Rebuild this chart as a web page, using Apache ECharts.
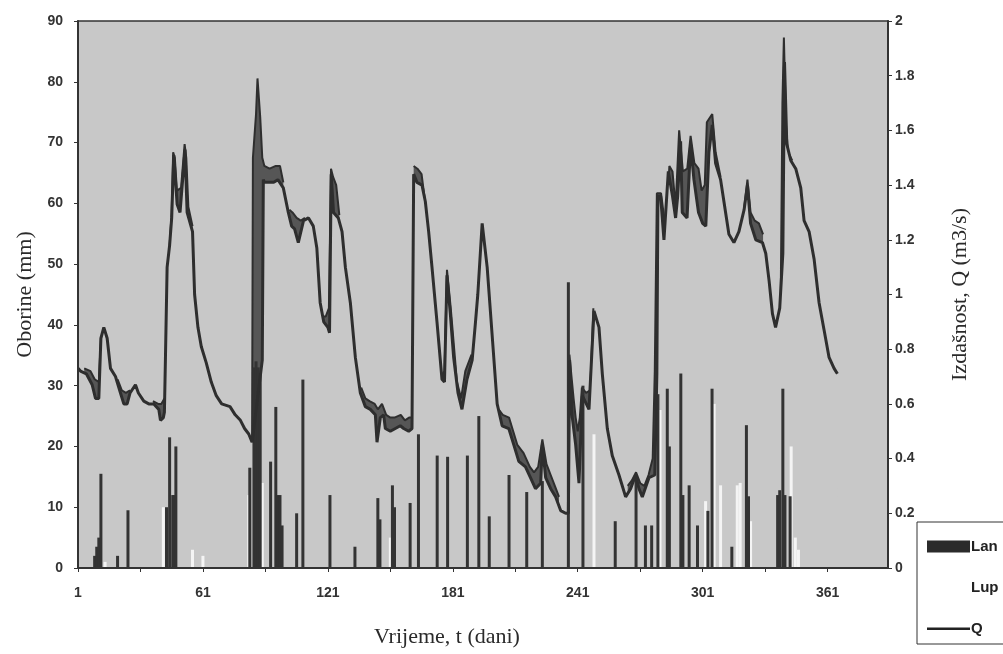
<!DOCTYPE html>
<html>
<head>
<meta charset="utf-8">
<title>Oborine i izdašnost</title>
<script src="https://cdn.jsdelivr.net/npm/echarts@6/dist/echarts.min.js"></script>
<style>
  html, body { margin: 0; padding: 0; background: #fff; }
  #chart { width: 1003px; height: 654px; }
</style>
</head>
<body>
<div id="chart"></div>
<script>
// x axis (dani)
const dayTicks = [1, 31, 61, 91, 121, 151, 181, 211, 241, 271, 301, 331, 361];
const dayLabels = [1, 61, 121, 181, 241, 301, 361];

// oborine Lan [dan, mm]
const lanRain = [
  [9, 2], [10, 3.5], [11, 5], [12, 15.5], [20, 2], [25, 9.5], [43.5, 10],
  [45, 21.5], [46.5, 12], [47, 12], [48, 20],
  [83.5, 16.5], [85.5, 33], [86.5, 34], [87.5, 33], [88.5, 32], [93.5, 17.5],
  [96, 26.5], [97, 12], [98, 12], [99, 7], [106, 9], [109, 31], [122, 12],
  [134, 3.5], [145, 11.5], [146, 8], [152, 13.6], [153, 10], [160.5, 10.7],
  [164.5, 22], [173.5, 18.5], [178.5, 18.3], [188, 18.5], [193.5, 25],
  [198.5, 8.5], [208, 15.3], [216.5, 12.5], [224, 14.3], [236.5, 47],
  [243.5, 30], [259, 7.7], [269, 15], [273.5, 7], [276.5, 7], [279.5, 28.6],
  [284, 29.5], [285, 20], [290.5, 32], [291.5, 12], [294.5, 13.6], [298.5, 7],
  [303.5, 9.4], [305.5, 29.5], [315, 3.5], [322, 23.5], [323, 11.8],
  [337, 12], [338, 12.8], [339.5, 29.5], [340.5, 12], [343, 11.8]
];

// oborine Lup [dan, mm]
const lupRain = [
  [10.5, 1.5], [14, 1], [42, 10], [56, 3], [61, 2], [83, 12], [87.5, 15],
  [89.5, 14], [151, 5], [248.8, 22], [280.5, 26], [302.4, 11], [306.5, 27],
  [309.6, 13.6], [317.6, 13.6], [319, 14], [324, 7.7], [343.5, 20],
  [345.5, 5], [347, 3]
];

// izdasnost Q [dan, m3/s]
const qLine = [
  [1, 0.73], [2.2, 0.72], [5, 0.71], [7.8, 0.67], [9.4, 0.62], [11, 0.62],
  [12, 0.84], [13.4, 0.88], [15, 0.84], [16.6, 0.73], [19, 0.70], [21.4, 0.64],
  [23, 0.60], [24.6, 0.60], [26, 0.64], [28.6, 0.67], [30, 0.64], [32.6, 0.61],
  [35, 0.60], [37.4, 0.60], [39.8, 0.58], [40.6, 0.54], [42, 0.55], [42.5, 0.57],
  [43, 0.77], [43.8, 1.10], [45, 1.18], [46, 1.28], [47, 1.51], [48.6, 1.33],
  [50, 1.30], [52.4, 1.53], [53.4, 1.30], [56, 1.23], [57, 1.00], [58.6, 0.88],
  [60.2, 0.81], [62.6, 0.75], [65, 0.68], [67.4, 0.63], [70, 0.60], [74, 0.59],
  [76.5, 0.56], [79, 0.54], [81, 0.51], [83, 0.49], [84.6, 0.46], [89.5, 0.76],
  [90, 1.42], [90.5, 1.41], [95, 1.41], [97, 1.42], [99.6, 1.39], [102, 1.30],
  [103.6, 1.25], [105, 1.24], [106.8, 1.19], [109.3, 1.27], [111.7, 1.28], [114, 1.25],
  [115.7, 1.17], [117.3, 0.97], [119, 0.90], [121, 0.88], [121.8, 0.86],
  [122.6, 1.44], [123.7, 1.30], [126, 1.28], [127.8, 1.23], [129.4, 1.10],
  [131.8, 0.97], [134.2, 0.77], [136.6, 0.64], [139, 0.59], [141.4, 0.58],
  [143.8, 0.56], [144.6, 0.46], [146.2, 0.55], [147.8, 0.56], [148.6, 0.51],
  [151, 0.50], [153.4, 0.51], [155.8, 0.52], [157.4, 0.51], [159.8, 0.50],
  [161.4, 0.51], [162.2, 1.44], [163.8, 1.41], [166.2, 1.40], [167.8, 1.34],
  [169.4, 1.23], [171, 1.10], [173.4, 0.90], [175.8, 0.69], [177, 0.68],
  [178.2, 1.07], [179.8, 0.93], [181.4, 0.77], [183.5, 0.64], [185.4, 0.58],
  [187.8, 0.69], [190.3, 0.76], [191.9, 0.90], [193, 1.00], [195.1, 1.26],
  [197.5, 1.10], [200, 0.84], [202.3, 0.60], [204.7, 0.52], [207.9, 0.51],
  [210.3, 0.45], [212.7, 0.39], [215.9, 0.37], [218.3, 0.33], [220.7, 0.29],
  [223.2, 0.31], [224, 0.45], [225.6, 0.33], [228, 0.29], [230.4, 0.26],
  [232.8, 0.21], [235.2, 0.20], [236.5, 0.20], [237.1, 0.76], [238.4, 0.55],
  [240, 0.45], [241.6, 0.31], [243.2, 0.63], [246.4, 0.58], [248.8, 0.94],
  [251.2, 0.88], [252.8, 0.71], [255.2, 0.51], [257.6, 0.41], [260.8, 0.34],
  [264, 0.26], [266.4, 0.29], [268.8, 0.34], [270.4, 0.29], [272, 0.26],
  [275.2, 0.33], [278, 0.34], [279, 0.71], [279.5, 1.36], [280.8, 1.36],
  [282.4, 1.20], [284.5, 1.45], [286.5, 1.36], [288, 1.28], [289, 1.36],
  [290.4, 1.56], [291.2, 1.30], [293.5, 1.28], [295.2, 1.55], [296.8, 1.42],
  [299, 1.30], [301, 1.26], [302.5, 1.25], [304, 1.52], [305.6, 1.62],
  [307.2, 1.48], [309.6, 1.42], [311.2, 1.34], [313.6, 1.22], [316, 1.19],
  [318.4, 1.23], [320.9, 1.31], [322.5, 1.40], [324, 1.26], [326.5, 1.20],
  [329.7, 1.19], [331.3, 1.15], [332.9, 1.05], [334.5, 0.93], [336, 0.88],
  [338, 0.95], [339.5, 1.15], [340.3, 1.85], [341.4, 1.55], [343.3, 1.49],
  [345.7, 1.46], [348.1, 1.39], [349.7, 1.27], [352.1, 1.23], [354.5, 1.13],
  [356.9, 0.97], [359.3, 0.87], [361.7, 0.77], [364.1, 0.73], [365.7, 0.71]
];

// gornja krivulja pojasa oko Q (null = prekid)
const qUpper = [
  [4, 0.73], [7, 0.72], [9, 0.69], [11, 0.68], [12, 0.84], [12, null],
  [20, 0.69], [22, 0.65], [24, 0.64], [26, 0.65], [26, null],
  [37, 0.61], [39.5, 0.60], [41, 0.60], [42.5, 0.62], [42.5, null],
  [45, 1.18], [46, 1.30], [46.7, 1.52], [47.5, 1.50], [48.5, 1.38], [50.5, 1.39],
  [52.2, 1.55], [53, 1.50], [54, 1.32], [56, 1.25], [56, null],
  [84.6, 0.46], [85, 1.50], [86.5, 1.66], [87.2, 1.79], [88.5, 1.65], [89.5, 1.50],
  [90.5, 1.47], [93, 1.46], [96, 1.47], [98, 1.47], [99.6, 1.41], [99.6, null],
  [102.5, 1.31], [104, 1.30], [106, 1.28], [108, 1.27], [110, 1.28], [110, null],
  [118.5, 0.92], [120, 0.92], [121.5, 0.95], [122.5, 1.46], [123.5, 1.43],
  [125, 1.40], [126.5, 1.29], [126.5, null],
  [137, 0.66], [139, 0.62], [141, 0.61], [143.5, 0.60], [145, 0.58], [147, 0.60],
  [149, 0.56], [151, 0.55], [153, 0.55], [156, 0.56], [158, 0.54], [160, 0.55],
  [161.5, 0.55], [161.5, null],
  [162.2, 1.47], [164, 1.46], [166, 1.44], [167.5, 1.35], [167.5, null],
  [175.5, 0.70], [177, 0.72], [178.2, 1.09], [180, 0.95], [183, 0.68],
  [185, 0.62], [187, 0.72], [190, 0.78], [190, null],
  [203, 0.58], [205, 0.56], [208, 0.55], [210, 0.50], [212, 0.45], [215, 0.42],
  [218, 0.37], [220, 0.35], [222, 0.37], [224, 0.47], [226, 0.38], [228, 0.34],
  [230, 0.30], [232, 0.26], [232, null],
  [236.5, 0.22], [237, 0.78], [238, 0.70], [239, 0.62], [240, 0.55], [241, 0.50],
  [242, 0.55], [243, 0.66], [245, 0.64], [247, 0.65], [248.5, 0.95], [248.5, null],
  [265, 0.30], [267, 0.32], [269, 0.35], [271, 0.31], [273, 0.30], [275, 0.34],
  [277, 0.40], [278, 0.72], [279, 1.37], [281, 1.37], [282.5, 1.28], [283.5, 1.24],
  [285, 1.47], [286.5, 1.45], [288, 1.32], [289.7, 1.60], [291.5, 1.45],
  [293.6, 1.46], [295.2, 1.58], [297, 1.48], [299, 1.46], [300.5, 1.38],
  [302, 1.40], [303, 1.63], [305.6, 1.66], [307.2, 1.52], [309.6, 1.43], [309.6, null],
  [321, 1.32], [322.5, 1.42], [324, 1.30], [326, 1.27], [328, 1.26], [330, 1.22], [330, null],
  [338.5, 1.00], [339.3, 1.70], [340, 1.94], [341, 1.62], [342, 1.52], [344, 1.49]
];

const plotBg = "#c8c8c8";
const ink = "#2e2e2e";
const tickFont = {
  color: "#333",
  fontFamily: "'Liberation Sans Narrow', 'Arial Narrow', 'Liberation Sans', sans-serif",
  fontWeight: "bold",
  fontSize: 14
};
const titleFont = {
  color: "#2a2a2a",
  fontFamily: "'Liberation Serif', 'DejaVu Serif', serif",
  fontSize: 22
};

let myChart = echarts.init(document.getElementById("chart"), null, { renderer: "canvas" });

let option = {
  animation: false,
  backgroundColor: "#fff",
  grid: {
    left: 78,
    right: 115,
    top: 21,
    bottom: 86,
    show: true,
    backgroundColor: plotBg,
    borderColor: "#333",
    borderWidth: 1.5
  },
  legend: {
    left: 917,
    top: 522,
    orient: "vertical",
    selectedMode: false,
    backgroundColor: "#fff",
    borderColor: "#333",
    borderWidth: 1,
    borderRadius: 0,
    padding: [17, 60, 8, 10],
    itemWidth: 43,
    itemHeight: 12,
    itemGap: 26,
    textStyle: Object.assign({}, tickFont, { fontSize: 15, color: "#222", padding: [0, 0, 0, -4] }),
    data: [
      { name: "Lan", icon: "rect", itemStyle: { color: "#2b2b2b" } },
      { name: "Lup", icon: "rect", itemStyle: { color: "#fff", borderWidth: 0 } },
      {
        name: "Q",
        icon: "path://M0,0 M43,12 M0,5 L43,5 L43,7.5 L0,7.5 Z",
        itemStyle: { color: "#222" }
      }
    ]
  },
  xAxis: {
    type: "value",
    min: 1,
    max: 390,
    z: 5,
    name: "Vrijeme, t (dani)",
    nameLocation: "middle",
    nameGap: 58,
    nameTextStyle: Object.assign({}, titleFont, { padding: [0, 72, 0, 0] }),
    axisLine: { show: true, lineStyle: { color: "#333", width: 2 } },
    axisTick: { show: true, length: 4, customValues: dayTicks, lineStyle: { color: "#333" } },
    axisLabel: Object.assign({ customValues: dayLabels, margin: 18 }, tickFont),
    splitLine: { show: false }
  },
  yAxis: [
    {
      type: "value",
      min: 0,
      max: 90,
      interval: 10,
      z: 5,
      name: "Oborine (mm)",
      nameLocation: "middle",
      nameGap: 42,
      nameTextStyle: titleFont,
      axisLine: { show: true, lineStyle: { color: "#333", width: 2 } },
      axisTick: { show: true, length: 4, lineStyle: { color: "#333" } },
      axisLabel: Object.assign({ margin: 15 }, tickFont),
      splitLine: { show: false }
    },
    {
      type: "value",
      min: 0,
      max: 2,
      interval: 0.2,
      z: 5,
      name: "Izdašnost, Q (m3/s)",
      nameLocation: "middle",
      nameGap: 61,
      nameTextStyle: titleFont,
      axisLine: { show: true, lineStyle: { color: "#333", width: 2 } },
      axisTick: { show: true, length: 4, lineStyle: { color: "#333" } },
      axisLabel: Object.assign({ margin: 7 }, tickFont),
      splitLine: { show: false }
    }
  ],
  series: [
    {
      name: "Qpojas",
      type: "line",
      yAxisIndex: 1,
      z: 1,
      silent: true,
      symbol: "none",
      connectNulls: false,
      data: qUpper,
      lineStyle: { color: ink, width: 2 },
      areaStyle: { color: "#565656", opacity: 1 }
    },
    {
      name: "Qpodloga",
      type: "line",
      yAxisIndex: 1,
      z: 2,
      silent: true,
      symbol: "none",
      data: qLine,
      lineStyle: { width: 0 },
      areaStyle: { color: plotBg, opacity: 1 }
    },
    {
      name: "Lup",
      type: "bar",
      yAxisIndex: 0,
      z: 3,
      barWidth: 3,
      barGap: "-100%",
      itemStyle: { color: "#f4f4f4" },
      data: lupRain
    },
    {
      name: "Lan",
      type: "bar",
      yAxisIndex: 0,
      z: 3,
      barWidth: 3,
      barGap: "-100%",
      itemStyle: { color: "#333" },
      data: lanRain
    },
    {
      name: "Q",
      type: "line",
      yAxisIndex: 1,
      z: 4,
      symbol: "none",
      data: qLine,
      lineStyle: { color: ink, width: 3 }
    }
  ]
};

if (option && typeof option === "object") {
  myChart.setOption(option);
}

window.addEventListener("resize", myChart.resize);
</script>
</body>
</html>
